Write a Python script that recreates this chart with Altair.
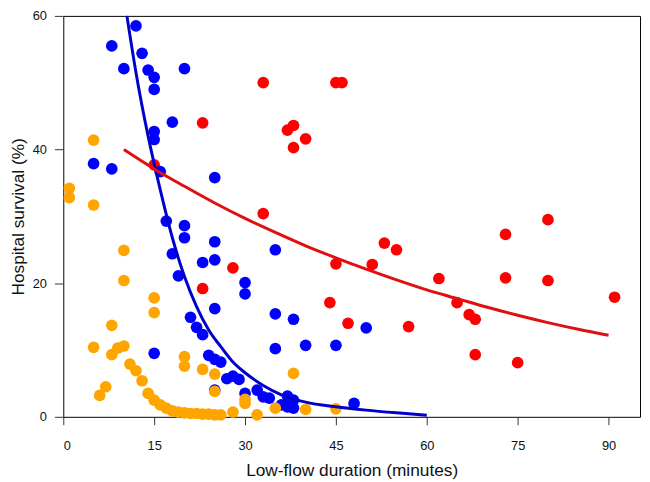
import altair as alt
import pandas as pd

# ---- data ----
blue_x = [5, 8, 8, 10, 12, 13, 14, 15, 15, 15, 15, 16, 18, 20, 25, 17, 20, 20, 25, 18,
          23, 25, 19, 30, 30, 25, 21, 22, 23, 15, 24, 25, 26, 27, 28, 29, 25, 30, 32, 33,
          34, 35, 35, 38, 50, 35, 40, 45, 37, 38, 36, 37, 38, 48]
blue_y = [37.9, 37.1, 55.5, 52.1, 58.5, 54.4, 51.9, 50.8, 49.0, 42.7, 41.5, 36.7, 44.1, 52.1,
          35.8, 29.3, 28.6, 26.8, 26.2, 24.4, 23.1, 23.5, 21.1, 20.1, 18.4, 16.2, 14.9, 13.4,
          12.3, 9.5, 9.2, 8.6, 8.2, 5.7, 6.1, 5.6, 4.0, 3.5, 4.0, 3.0, 2.8, 25.0, 15.4, 14.6,
          13.3, 10.2, 10.7, 10.7, 3.1, 2.5, 1.8, 1.5, 1.3, 2.0]

red_x = [15, 23, 23, 28, 33, 33, 37, 38, 38, 40, 45, 46, 44, 45, 47, 51, 53, 55, 57, 62,
         65, 67, 68, 68, 73, 73, 75, 80, 80, 91]
red_y = [37.7, 44.0, 19.2, 22.3, 50.0, 30.4, 42.9, 43.6, 40.3, 41.6, 50.0, 50.0, 17.1, 22.9,
         14.0, 22.8, 26.0, 25.0, 13.5, 20.7, 17.1, 15.3, 14.6, 9.3, 27.3, 20.8, 8.1, 29.5,
         20.4, 17.9]

orange_x = [1, 1, 5, 5, 5, 6, 7, 8, 8, 9, 10, 10, 10, 11, 12, 13, 14, 15, 15, 15, 16, 17,
            18, 19, 20, 21, 22, 23, 24, 25, 26, 20, 20, 23, 25, 25, 28, 30, 30, 32, 35, 38,
            40, 45]
orange_y = [34.2, 32.8, 41.4, 31.7, 10.4, 3.2, 4.5, 13.7, 9.3, 10.3, 10.6, 24.9, 20.4, 7.9,
            6.9, 5.4, 3.5, 17.8, 15.6, 2.5, 1.8, 1.3, 0.9, 0.7, 0.6, 0.5, 0.5, 0.4, 0.4, 0.3,
            0.3, 9.0, 7.6, 7.1, 6.4, 3.8, 0.7, 2.6, 2.0, 0.3, 1.3, 6.5, 1.1, 1.2]

blue_curve_x = [10.5, 12, 14, 16, 18, 20, 22, 24, 26, 28, 30, 33, 36, 40, 45, 50, 55, 60]
blue_curve_y = [60, 51.5, 42, 34, 26.8, 21, 16.5, 13, 10.5, 8.2, 6.6, 4.7, 3.3, 2.2, 1.5,
                1.0, 0.6, 0.25]

red_curve_x = [10, 15, 20, 25, 30, 35, 40, 45, 50, 55, 60, 65, 70, 75, 80, 85, 90]
red_curve_y = [40.0, 37.1, 34.5, 32.0, 29.7, 27.6, 25.6, 23.8, 22.1, 20.5, 19.0, 17.7, 16.4,
               15.2, 14.1, 13.1, 12.2]

x_ticks = [0, 15, 30, 45, 60, 75, 90]
y_ticks = [0, 20, 40, 60]

FONT = "Liberation Sans"

x_enc = alt.X(
    "x:Q",
    scale=alt.Scale(domain=[0, 95.2], nice=False, zero=False),
    axis=alt.Axis(
        values=x_ticks, title="Low-flow duration (minutes)", grid=False, domain=False,
        tickSize=8, tickColor="#333333", labelPadding=15, labelFontSize=13,
        labelColor="#111111", labelFont=FONT, titleFont=FONT, titleFontSize=17.5,
        titleFontWeight="normal", titleColor="#111111", titleY=59,
        titleBaseline="alphabetic",
    ),
)
y_enc = alt.Y(
    "y:Q",
    scale=alt.Scale(domain=[0, 60], nice=False, zero=False),
    axis=alt.Axis(
        values=y_ticks, title="Hospital survival (%)", grid=False, domain=False,
        tickSize=9, tickColor="#333333", labelPadding=8, labelFontSize=13,
        labelColor="#111111", labelFont=FONT, titleFont=FONT, titleFontSize=17.5,
        titleFontWeight="normal", titleColor="#111111", titleX=-40,
        titleBaseline="alphabetic",
    ),
)


def pts(xs, ys, color):
    df = pd.DataFrame({"x": xs, "y": ys})
    return alt.Chart(df).mark_circle(size=140, opacity=1, color=color).encode(x=x_enc, y=y_enc)


def curve(xs, ys, color):
    df = pd.DataFrame({"x": xs, "y": ys})
    return alt.Chart(df).mark_line(color=color, strokeWidth=3, interpolate="monotone").encode(
        x=x_enc, y=y_enc
    )


chart = alt.layer(
    pts(red_x, red_y, "#FF0000"),
    pts(blue_x, blue_y, "#0000FF"),
    pts(orange_x, orange_y, "#FFA500"),
    curve(blue_curve_x, blue_curve_y, "#0000CC"),
    curve(red_curve_x, red_curve_y, "#E01010"),
).properties(
    width=584,
    height=406,
    padding={"left": 56, "top": 5, "right": 2, "bottom": 63},
    autosize=alt.AutoSizeParams(type="none"),
).configure_view(stroke="#000000", strokeWidth=1)

chart.save("out.html", embed_options={"renderer": "svg", "actions": False})
